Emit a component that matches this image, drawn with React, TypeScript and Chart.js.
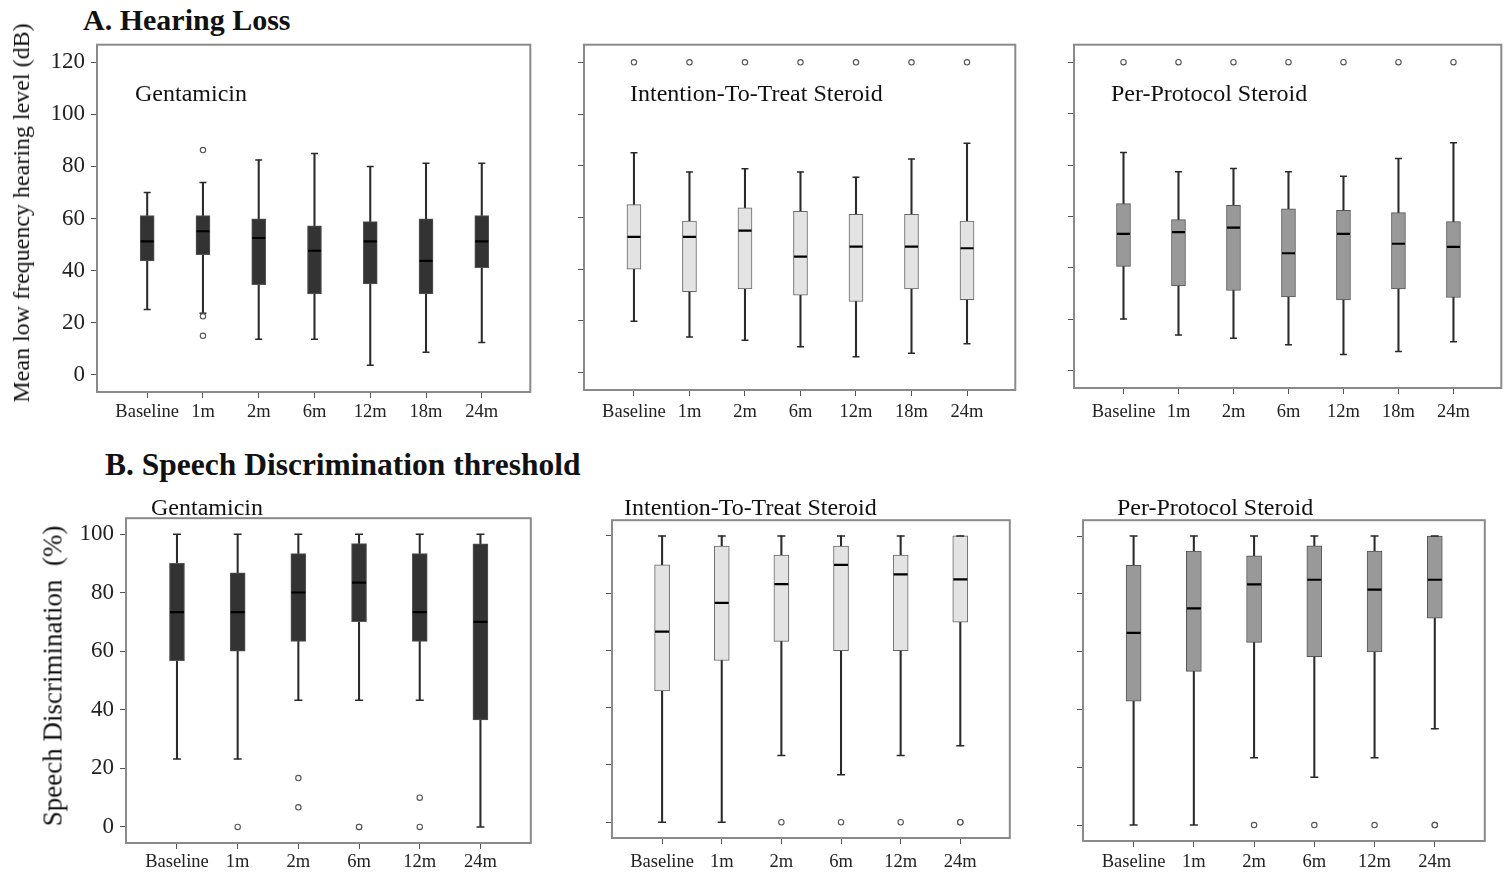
import React, { useEffect, useRef } from 'react';
import { Chart, registerables } from 'chart.js';
Chart.register(...registerables);

const FONT = "'Liberation Serif', 'DejaVu Serif', serif";

// ---------- categories / ticks ----------
const catsA = ['Baseline', '1m', '2m', '6m', '12m', '18m', '24m'];
const catsB = ['Baseline', '1m', '2m', '6m', '12m', '24m'];
const yTicksA = [0, 20, 40, 60, 80, 100, 120];
const yTicksB = [0, 20, 40, 60, 80, 100];

// ---------- A1 Gentamicin (hearing level, dB) ----------
const a1Low = [25, 23.6, 13.6, 13.6, 3.6, 8.6, 12.3];
const a1Q1 = [43.7, 46.1, 34.6, 31.0, 34.8, 31.0, 41.1];
const a1Med = [51.2, 55.1, 52.5, 47.6, 51.2, 43.7, 51.2];
const a1Q3 = [61.1, 61.1, 59.9, 57.2, 58.8, 59.9, 61.1];
const a1High = [70, 73.8, 82.5, 85.0, 80.0, 81.2, 81.2];
const a1OutCat = [1, 1, 1];
const a1OutVal = [86.3, 22.4, 14.9];

// ---------- A2 Intention-To-Treat Steroid ----------
const a2Low = [19.9, 13.8, 12.5, 10.0, 6.2, 7.5, 11.2];
const a2Q1 = [40.0, 31.3, 32.4, 30.0, 27.5, 32.4, 28.2];
const a2Med = [52.5, 52.5, 54.9, 44.9, 48.7, 48.7, 48.1];
const a2Q3 = [65.0, 58.6, 63.7, 62.4, 61.2, 61.2, 58.6];
const a2High = [85.0, 77.6, 78.8, 77.6, 75.6, 82.6, 88.7];
const a2OutCat = [0, 1, 2, 3, 4, 5, 6];
const a2OutVal = [120, 120, 120, 120, 120, 120, 120];

// ---------- A3 Per-Protocol Steroid ----------
const a3Low = [20.1, 13.9, 12.6, 10.1, 6.3, 7.5, 11.3];
const a3Q1 = [40.6, 33.0, 31.2, 28.7, 27.6, 31.8, 28.5];
const a3Med = [53.2, 53.9, 55.7, 45.7, 53.2, 49.4, 48.2];
const a3Q3 = [65.0, 58.8, 64.3, 63.0, 62.4, 61.5, 58.0];
const a3High = [84.9, 77.4, 78.7, 77.4, 75.6, 82.5, 88.7];
const a3OutCat = [0, 1, 2, 3, 4, 5, 6];
const a3OutVal = [120, 120, 120, 120, 120, 120, 120];

// ---------- B1 Gentamicin (speech discrimination %) ----------
const b1Low = [23.2, 23.2, 43.3, 43.3, 43.3, 0];
const b1Q1 = [56.8, 60.1, 63.4, 70.1, 63.4, 36.6];
const b1Med = [73.4, 73.4, 80.1, 83.5, 73.4, 70.1];
const b1Q3 = [90.1, 86.8, 93.4, 96.8, 93.4, 96.7];
const b1High = [100, 100, 100, 100, 100, 100];
const b1OutCat = [1, 2, 2, 3, 3, 4, 4];
const b1OutVal = [0, 16.7, 6.7, 0, 0, 10, 0];

// ---------- B2 Intention-To-Treat Steroid ----------
const b2Low = [0, 0, 23.3, 16.6, 23.3, 26.7];
const b2Q1 = [45.9, 56.5, 63.2, 59.9, 59.9, 69.9];
const b2Med = [66.6, 76.6, 83.2, 89.9, 86.6, 84.8];
const b2Q3 = [89.9, 96.5, 93.3, 96.5, 93.3, 100];
const b2High = [100, 100, 100, 100, 100, 100];
const b2OutCat = [2, 3, 4, 5, 5];
const b2OutVal = [0, 0, 0, 0, 0];

// ---------- B3 Per-Protocol Steroid ----------
const b3Low = [0, 0, 23.3, 16.6, 23.3, 33.3];
const b3Q1 = [42.9, 53.2, 63.2, 58.3, 59.9, 71.6];
const b3Med = [66.5, 75.0, 83.3, 84.9, 81.5, 84.9];
const b3Q3 = [89.9, 94.8, 93.2, 96.6, 94.8, 100];
const b3High = [100, 100, 100, 100, 100, 100];
const b3OutCat = [2, 3, 4, 5, 5];
const b3OutVal = [0, 0, 0, 0, 0];

const framePlugin = {
  id: 'frameBox',
  afterDraw(chart: any) {
    const { ctx, chartArea: a } = chart;
    ctx.save();
    ctx.strokeStyle = '#8a8a8a';
    ctx.lineWidth = 2;
    ctx.strokeRect(a.left, a.top, a.right - a.left, a.bottom - a.top);
    ctx.restore();
  },
};

type PanelProps = {
  l: number; t: number; r: number; b: number;
  cats: string[]; yTicks: number[];
  yMin: number; yMax: number; xMin: number; xMax: number;
  low: number[]; q1: number[]; med: number[]; q3: number[]; high: number[];
  outCat: number[]; outVal: number[];
  fill: string; stroke: string;
  showY: boolean; boxW: number; capW: number; xPad: number;
};

function Panel(p: PanelProps) {
  const ref = useRef<HTMLCanvasElement | null>(null);
  const padL = p.showY ? 90 : 16;
  const padT = 8;
  const padR = 8;
  const padB = 36;
  const w = p.r - p.l + padL + padR;
  const h = p.b - p.t + padT + padB;

  useEffect(() => {
    if (!ref.current) return;
    const cats = p.cats;
    const whisk = cats.map((_, i) => ({ x: i, y: [p.low[i], p.high[i]] }));
    const box = cats.map((_, i) => ({ x: i, y: [p.q1[i], p.q3[i]] }));
    const caps = [
      ...cats.map((_, i) => ({ x: i, y: p.low[i] })),
      ...cats.map((_, i) => ({ x: i, y: p.high[i] })),
    ];
    const meds = cats.map((_, i) => ({ x: i, y: p.med[i] }));
    const outs = p.outCat.map((c, k) => ({ x: c, y: p.outVal[k] }));
    const gridOpts = {
      drawOnChartArea: false,
      drawTicks: true,
      tickLength: 6,
      color: '#555',
      lineWidth: 1,
      offset: false,
    };
    const chart = new Chart(ref.current, {
      type: 'bar',
      data: {
        datasets: [
          { type: 'bar', data: whisk as any, barThickness: 1.4, backgroundColor: '#2a2a2a', borderWidth: 0, grouped: false, order: 4 } as any,
          { type: 'bar', data: box as any, barThickness: p.boxW, backgroundColor: p.fill, borderColor: p.stroke, borderWidth: 1, borderSkipped: false, grouped: false, order: 3 } as any,
          { type: 'scatter', data: caps, pointStyle: 'line', pointRadius: p.capW / 2, pointHoverRadius: p.capW / 2, pointBorderColor: '#2a2a2a', pointBorderWidth: 1.5, order: 2 } as any,
          { type: 'scatter', data: meds, pointStyle: 'line', pointRadius: p.boxW / 2 - 0.5, pointHoverRadius: p.boxW / 2 - 0.5, pointBorderColor: '#000', pointBorderWidth: 2.2, order: 1 } as any,
          { type: 'scatter', data: outs, pointStyle: 'circle', pointRadius: 2.7, pointHoverRadius: 2.7, pointBorderColor: '#555', pointBackgroundColor: '#fff', pointBorderWidth: 1.1, order: 0 } as any,
        ],
      },
      options: {
        responsive: false,
        animation: false,
        events: [],
        layout: { padding: { left: 0, top: padT, right: padR, bottom: 0 } },
        plugins: { legend: { display: false }, tooltip: { enabled: false } },
        scales: {
          x: {
            type: 'linear',
            min: p.xMin,
            max: p.xMax,
            offset: false,
            grid: gridOpts,
            border: { display: false },
            afterBuildTicks: (s: any) => { s.ticks = cats.map((_, i) => ({ value: i })); },
            afterFit: (s: any) => {
              s.height = padB;
              s.paddingLeft = 0; s.paddingRight = 0; s.paddingTop = 0; s.paddingBottom = 0;
            },
            ticks: {
              autoSkip: false,
              maxRotation: 0,
              padding: p.xPad,
              color: '#222',
              font: { family: FONT, size: 18.5 },
              callback: (v: any) => cats[v] ?? '',
            },
          },
          y: {
            type: 'linear',
            min: p.yMin,
            max: p.yMax,
            grid: gridOpts,
            border: { display: false },
            afterBuildTicks: (s: any) => { s.ticks = p.yTicks.map((v) => ({ value: v })); },
            afterFit: (s: any) => {
              s.width = padL;
              s.paddingLeft = 0; s.paddingRight = 0; s.paddingTop = 0; s.paddingBottom = 0;
            },
            ticks: {
              display: p.showY,
              padding: 6,
              color: '#222',
              font: { family: FONT, size: 23 },
              callback: (v: any) => String(v),
            },
          },
        } as any,
      },
      plugins: [framePlugin],
    } as any);
    return () => chart.destroy();
  }, []);

  return (
    <canvas
      ref={ref}
      width={w}
      height={h}
      style={{ position: 'absolute', left: p.l - padL, top: p.t - padT, width: w, height: h }}
    />
  );
}

function Txt(props: { x: number; y: number; size: number; bold?: boolean; rotate?: boolean; children: any }) {
  const { x, y, size, bold, rotate, children } = props;
  return (
    <div
      style={{
        position: 'absolute',
        left: x,
        top: y,
        fontFamily: FONT,
        fontSize: size,
        fontWeight: bold ? 700 : 400,
        lineHeight: 1,
        whiteSpace: 'pre',
        color: '#111',
        transform: rotate ? 'translate(-50%, -50%) rotate(-90deg)' : 'translateY(-50%)',
      }}
    >
      {children}
    </div>
  );
}

const A_Y = { yMin: -6.7, yMax: 126.8, xMin: -0.9, xMax: 6.87 };
const B_Y = { yMin: -5.5, yMax: 105.5, xMin: -0.84, xMax: 5.83 };

export default function App() {
  return (
    <div style={{ position: 'fixed', left: 0, top: 0, width: 1511, height: 877, background: '#fff', overflow: 'hidden' }}>
      <Txt x={83} y={20} size={30} bold>A. Hearing Loss</Txt>
      <Txt x={105} y={465} size={31.5} bold>B. Speech Discrimination threshold</Txt>

      <Panel l={97} t={44} r={531} b={392} cats={catsA} yTicks={yTicksA} {...A_Y}
        low={a1Low} q1={a1Q1} med={a1Med} q3={a1Q3} high={a1High} outCat={a1OutCat} outVal={a1OutVal}
        fill="#333333" stroke="#555555" showY boxW={14} capW={7} xPad={3} />
      <Panel l={584} t={44} r={1016} b={390} cats={catsA} yTicks={yTicksA} {...A_Y}
        low={a2Low} q1={a2Q1} med={a2Med} q3={a2Q3} high={a2High} outCat={a2OutCat} outVal={a2OutVal}
        fill="#e3e3e3" stroke="#666666" showY={false} boxW={14} capW={7} xPad={5} />
      <Panel l={1074} t={44} r={1502} b={388} cats={catsA} yTicks={yTicksA} {...A_Y}
        low={a3Low} q1={a3Q1} med={a3Med} q3={a3Q3} high={a3High} outCat={a3OutCat} outVal={a3OutVal}
        fill="#999999" stroke="#555555" showY={false} boxW={14} capW={7} xPad={7} />

      <Panel l={126} t={517} r={532} b={843} cats={catsB} yTicks={yTicksB} {...B_Y}
        low={b1Low} q1={b1Q1} med={b1Med} q3={b1Q3} high={b1High} outCat={b1OutCat} outVal={b1OutVal}
        fill="#333333" stroke="#555555" showY boxW={15} capW={8} xPad={2} />
      <Panel l={612} t={519} r={1011} b={838} cats={catsB} yTicks={yTicksB} {...B_Y}
        low={b2Low} q1={b2Q1} med={b2Med} q3={b2Q3} high={b2High} outCat={b2OutCat} outVal={b2OutVal}
        fill="#e3e3e3" stroke="#666666" showY={false} boxW={15} capW={8} xPad={7} />
      <Panel l={1083} t={519} r={1486} b={841} cats={catsB} yTicks={yTicksB} {...B_Y}
        low={b3Low} q1={b3Q1} med={b3Med} q3={b3Q3} high={b3High} outCat={b3OutCat} outVal={b3OutVal}
        fill="#999999" stroke="#555555" showY={false} boxW={15} capW={8} xPad={4} />

      <Txt x={135} y={93} size={24}>Gentamicin</Txt>
      <Txt x={630} y={93} size={24}>Intention-To-Treat Steroid</Txt>
      <Txt x={1111} y={93} size={24}>Per-Protocol Steroid</Txt>
      <Txt x={151} y={507} size={24}>Gentamicin</Txt>
      <Txt x={624} y={507} size={24}>Intention-To-Treat Steroid</Txt>
      <Txt x={1117} y={507} size={24}>Per-Protocol Steroid</Txt>

      <Txt x={21} y={213} size={24} rotate>Mean low frequency hearing level (dB)</Txt>
      <Txt x={53} y={676} size={27} rotate>{'Speech Discrimination  (%)'}</Txt>
    </div>
  );
}
